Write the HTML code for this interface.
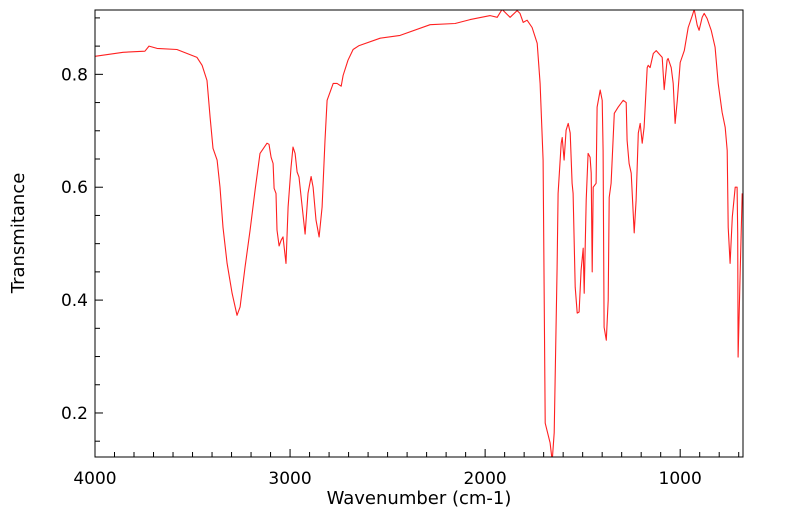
<!DOCTYPE html>
<html><head><meta charset="utf-8"><style>
html,body{margin:0;padding:0;background:#fff;}
svg{display:block;font-family:"DejaVu Sans","Liberation Sans",sans-serif;}
</style></head><body>
<svg id="chart" width="799" height="516">
<defs><clipPath id="plotclip"><rect x="95" y="10" width="648" height="447"/></clipPath></defs>
<g id="axes"></g>
<g id="series" clip-path="url(#plotclip)"></g>
<rect x="95" y="10" width="648" height="447" fill="none" stroke="#000" stroke-width="1"/>
<text x="419" y="504" font-size="18" text-anchor="middle">Wavenumber (cm-1)</text>
<text transform="translate(24,233) rotate(-90)" font-size="18" text-anchor="middle">Transmitance</text>
</svg>
<script>
const wavenumbers = [4000,3856,3744,3723,3682,3580,3477,3451,3426,3410,3395,3374,3359,3344,3323,3297,3272,3256,3231,3205,3179,3154,3118,3108,3097,3087,3082,3072,3067,3056,3046,3036,3021,3010,2995,2985,2974,2964,2954,2938,2923,2908,2892,2882,2867,2851,2836,2821,2810,2779,2759,2738,2728,2703,2677,2646,2538,2436,2282,2154,2077,1974,1938,1913,1872,1836,1821,1805,1785,1759,1733,1718,1703,1692,1667,1656,1646,1631,1626,1610,1605,1595,1585,1574,1564,1554,1549,1538,1528,1518,1508,1497,1492,1482,1472,1462,1456,1451,1446,1431,1426,1410,1400,1395,1390,1379,1369,1364,1354,1338,1318,1292,1277,1272,1262,1251,1241,1236,1226,1215,1205,1195,1185,1169,1164,1154,1138,1123,1092,1082,1067,1062,1046,1036,1026,1015,1000,979,959,938,928,913,903,887,877,862,841,821,805,785,769,759,754,744,733,718,708,705,703,692,682];
const transmittance = [0.832,0.839,0.841,0.850,0.846,0.844,0.830,0.816,0.789,0.724,0.669,0.648,0.600,0.529,0.465,0.412,0.373,0.388,0.458,0.524,0.595,0.660,0.678,0.676,0.653,0.642,0.598,0.589,0.524,0.496,0.506,0.512,0.465,0.565,0.635,0.671,0.660,0.627,0.618,0.565,0.517,0.589,0.619,0.600,0.542,0.512,0.565,0.683,0.754,0.784,0.784,0.779,0.798,0.825,0.844,0.851,0.864,0.869,0.888,0.890,0.897,0.904,0.901,0.915,0.901,0.913,0.908,0.892,0.896,0.883,0.855,0.784,0.648,0.182,0.147,0.115,0.165,0.458,0.589,0.678,0.688,0.648,0.701,0.713,0.696,0.607,0.589,0.423,0.377,0.379,0.453,0.492,0.412,0.577,0.660,0.653,0.625,0.450,0.600,0.607,0.742,0.772,0.754,0.665,0.352,0.329,0.400,0.582,0.607,0.731,0.742,0.754,0.750,0.683,0.642,0.625,0.554,0.519,0.577,0.696,0.713,0.678,0.706,0.812,0.816,0.812,0.837,0.842,0.830,0.773,0.825,0.828,0.812,0.784,0.713,0.754,0.821,0.842,0.883,0.904,0.915,0.887,0.878,0.901,0.908,0.899,0.878,0.848,0.784,0.733,0.706,0.665,0.529,0.465,0.547,0.600,0.600,0.519,0.299,0.458,0.589];
const xTickValues = [4000,3000,2000,1000];
const xTickLabels = ["4000","3000","2000","1000"];
const yTickValues = [0.2,0.4,0.6,0.8];
const yTickLabels = ["0.2","0.4","0.6","0.8"];

const X0=95,X1=743,Y0=10,Y1=457;
const WMAX=4000,WMIN=678,TMIN=0.122,TMAX=0.914;
function xScale(w){return X0+(WMAX-w)/(WMAX-WMIN)*(X1-X0);}
function yScale(t){return Y1-(t-TMIN)/(TMAX-TMIN)*(Y1-Y0);}
const NS="http://www.w3.org/2000/svg";
const axes=document.getElementById('axes');
const series=document.getElementById('series');
function line(x1,y1,x2,y2,name){
  const l=document.createElementNS(NS,'line');
  l.setAttribute('x1',x1);l.setAttribute('y1',y1);l.setAttribute('x2',x2);l.setAttribute('y2',y2);
  l.setAttribute('stroke','#000');l.setAttribute('stroke-width','1');
  
  
  axes.appendChild(l);
}
for(let w=4000; w>=WMIN; w-=100){
  const x=xScale(w);
  const major = xTickValues.indexOf(w)>=0;
  line(x,Y1,x,Y1-(major?8:5),'x-tick');
}
xTickValues.forEach((v,i)=>{
  const t=document.createElementNS(NS,'text');
  t.setAttribute('x',xScale(v));t.setAttribute('y',484);
  t.setAttribute('font-size','17');t.setAttribute('text-anchor','middle');
  t.textContent=xTickLabels[i];
  
  
  axes.appendChild(t);
});
for(let k=3;k<=18;k++){
  const v=k*0.05;
  const y=yScale(v);
  if(y<Y0||y>Y1) continue;
  const major = (k%4===0);
  line(X0,y,X0+(major?8:5),y,'y-tick');
}
yTickValues.forEach((v,i)=>{
  const t=document.createElementNS(NS,'text');
  t.setAttribute('x',88);t.setAttribute('y',yScale(v)+6);
  t.setAttribute('font-size','17');t.setAttribute('text-anchor','end');
  t.textContent=yTickLabels[i];
  
  
  axes.appendChild(t);
});
const p=document.createElementNS(NS,'polyline');
p.setAttribute('points',wavenumbers.map((w,i)=>xScale(w).toFixed(1)+','+yScale(transmittance[i]).toFixed(1)).join(' '));
p.setAttribute('fill','none');p.setAttribute('stroke','#ff2020');p.setAttribute('stroke-width','1.1');p.setAttribute('stroke-linejoin','round');


series.appendChild(p);
</script>
</body></html>
